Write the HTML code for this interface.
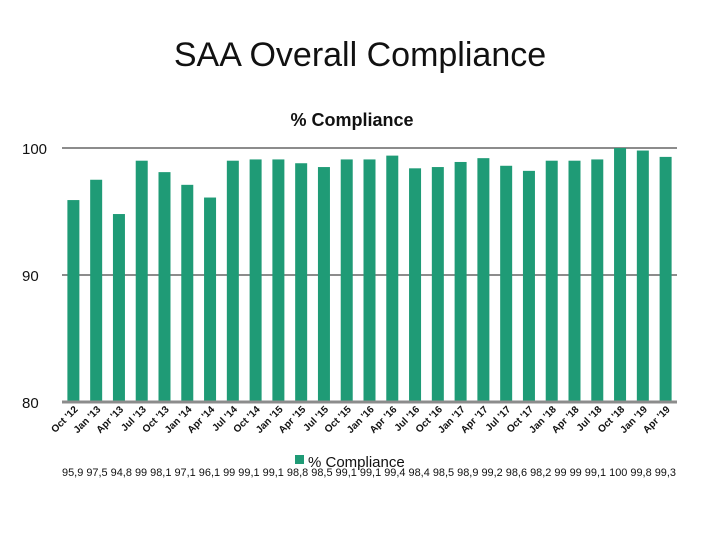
<!DOCTYPE html>
<html><head><meta charset="utf-8"><style>
body{margin:0;background:#fff;font-family:"Liberation Sans",sans-serif}
</style></head><body>
<svg width="720" height="540" xmlns="http://www.w3.org/2000/svg" id="svg" font-family="Liberation Sans, sans-serif">
<text x="360" y="66" text-anchor="middle" font-size="34" fill="#111">SAA Overall Compliance</text>
<text x="352" y="126" text-anchor="middle" font-size="18" font-weight="bold" fill="#111">% Compliance</text>
<g id="grid"></g><g id="bars"></g><g id="xl"></g>
<rect x="295" y="455" width="9" height="9" fill="#1f9b76"/>
<text x="308" y="467" font-size="15" fill="#111">% Compliance</text>
<text id="vals" x="62" y="476" font-size="11" fill="#111"></text>
</svg>
<script>
const categories=["Oct '12","Jan '13","Apr '13","Jul '13","Oct '13","Jan '14","Apr '14","Jul '14","Oct '14","Jan '15","Apr '15","Jul '15","Oct '15","Jan '16","Apr '16","Jul '16","Oct '16","Jan '17","Apr '17","Jul '17","Oct '17","Jan '18","Apr '18","Jul '18","Oct '18","Jan '19","Apr '19"];
const values=[95.9,97.5,94.8,99,98.1,97.1,96.1,99,99.1,99.1,98.8,98.5,99.1,99.1,99.4,98.4,98.5,98.9,99.2,98.6,98.2,99,99,99.1,100,99.8,99.3];
const yTicks=[80,90,100];
const valueLabels=["95,9","97,5","94,8","99","98,1","97,1","96,1","99","99,1","99,1","98,8","98,5","99,1","99,1","99,4","98,4","98,5","98,9","99,2","98,6","98,2","99","99","99,1","100","99,8","99,3"];
const NS="http://www.w3.org/2000/svg";
const x0=62,x1=677,yMin=80,yMax=100,py0=402,py1=148;
const slot=(x1-x0)/categories.length;
const y=v=>py0-(v-yMin)/(yMax-yMin)*(py0-py1);
const xc=i=>x0+slot*(i+0.5);
function mk(t,a,p){const e=document.createElementNS(NS,t);for(const k in a)e.setAttribute(k,a[k]);p.appendChild(e);return e;}
const grid=document.getElementById('grid');
yTicks.forEach(t=>{
 const l=mk('line',{x1:x0,x2:x1,y1:y(t),y2:y(t),stroke:'#8c8c8c','stroke-width':t==yMin?3:2},grid);
 
 
 const tx=mk('text',{x:22,y:y(t)+6,'font-size':15,fill:'#111'},grid);tx.textContent=t;
 
 
});
const bars=document.getElementById('bars'),xl=document.getElementById('xl');
values.forEach((v,i)=>{
 const r=mk('rect',{x:xc(i)-6,y:y(v),width:12,height:y(yMin)-y(v)-1.5,fill:'#1f9b76'},bars);
 
 
 const t=mk('text',{x:0,y:0,'font-size':10,'font-weight':'bold',fill:'#111','text-anchor':'end',transform:`translate(${xc(i)+5},${410}) rotate(-45)`},xl);
 t.textContent=categories[i];
 
 
});
document.getElementById('vals').textContent=valueLabels.join(' ');
const vt=document.getElementById('vals');vt.setAttribute('textLength',614);vt.setAttribute('lengthAdjust','spacingAndGlyphs');
</script>
</body></html>
